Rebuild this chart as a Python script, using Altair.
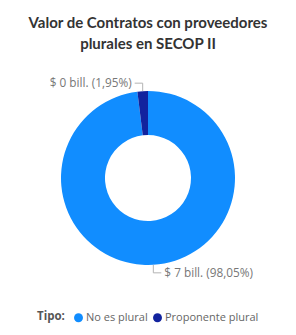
import altair as alt
import pandas as pd

# Data (values in billions of pesos)
tipos = ["No es plural", "Proponente plural"]
valores = [7.0, 0.139]
orden = [0, 1]
colores = ["#118DFF", "#12239E"]

df = pd.DataFrame({"tipo": tipos, "valor": valores, "orden": orden})

W, H = 280, 236
R_OUT, R_IN = 87, 43
LEAD1, LEAD2, GAP = 8, 8, 3
FONT = "Open Sans"

base = alt.Chart(df)

arcs = base.mark_arc(outerRadius=R_OUT, innerRadius=R_IN).encode(
    theta=alt.Theta("valor:Q", stack=True),
    order=alt.Order("orden:Q"),
    color=alt.Color(
        "tipo:N",
        scale=alt.Scale(domain=tipos, range=colores),
        legend=alt.Legend(
            title="Tipo:",
            orient="none",
            legendX=29,
            legendY=252,
            direction="horizontal",
            titleOrient="left",
            symbolType="circle",
            symbolSize=80,
            symbolStrokeWidth=0,
            labelFont=FONT,
            titleFont=FONT,
            labelFontSize=11,
            titleFontSize=11.5,
            titleFontWeight="bold",
            labelColor="#666666",
            titleColor="#555555",
            labelOffset=2,
            columnPadding=4,
            titlePadding=8,
        ),
    ),
)

lab = base.transform_joinaggregate(total="sum(valor)").transform_window(
    cum="sum(valor)", sort=[alt.SortField("orden")], frame=[None, 0]
).transform_calculate(
    pct="datum.valor / datum.total",
    mid="((datum.cum - datum.valor) / datum.total + datum.valor / datum.total / 2) * 2 * PI",
).transform_calculate(
    sx="sin(datum.mid)",
    cy="cos(datum.mid)",
    side="sin(datum.mid) < 0 ? -1 : 1",
).transform_calculate(
    x1=f"{R_OUT} * datum.sx",
    y1=f"{R_OUT} * datum.cy",
    x2=f"{R_OUT} * datum.sx",
    y2=f"{R_OUT} * datum.cy + (datum.cy > 0 ? {LEAD1} : -{LEAD1})",
).transform_calculate(
    x3=f"datum.x2 + datum.side * {LEAD2}",
    xt=f"datum.x2 + datum.side * {LEAD2 + GAP}",
    texto="'$ ' + format(datum.valor, '.0f') + ' bill. (' + replace(format(datum.pct, '.2%'), '.', ',') + ')'",
)

xs = alt.Scale(domain=[-W / 2, W / 2], zero=False, nice=False)
ys = alt.Scale(domain=[-H / 2, H / 2], zero=False, nice=False)

rule1 = lab.mark_rule(color="#b3b3b3", strokeWidth=1).encode(
    x=alt.X("x1:Q", scale=xs, axis=None),
    y=alt.Y("y1:Q", scale=ys, axis=None),
    x2="x2:Q",
    y2="y2:Q",
)
rule2 = lab.mark_rule(color="#b3b3b3", strokeWidth=1).encode(
    x=alt.X("x2:Q", scale=xs, axis=None),
    y=alt.Y("y2:Q", scale=ys, axis=None),
    x2="x3:Q",
)

text_l = lab.transform_filter("datum.side < 0").mark_text(
    align="right", baseline="middle", font=FONT, fontSize=11.8, color="#777777"
).encode(
    x=alt.X("xt:Q", scale=xs, axis=None),
    y=alt.Y("y2:Q", scale=ys, axis=None),
    text="texto:N",
)
text_r = lab.transform_filter("datum.side > 0").mark_text(
    align="left", baseline="middle", font=FONT, fontSize=11.8, color="#777777"
).encode(
    x=alt.X("xt:Q", scale=xs, axis=None),
    y=alt.Y("y2:Q", scale=ys, axis=None),
    text="texto:N",
)

chart = alt.layer(arcs, rule1, rule2, text_l, text_r).properties(
    width=W,
    height=H,
    padding={"top": 8, "left": 0, "right": 0, "bottom": 20},
    background="white",
    title=alt.Title(
        ["Valor de Contratos con proveedores", "plurales en SECOP II"],
        font="Lato",
        fontSize=15,
        fontWeight="bold",
        color="#333333",
        lineHeight=21,
        anchor="middle",
        offset=8,
    ),
).configure_view(stroke=None)

chart.save("out.html", embed_options={"renderer": "svg", "actions": False})
